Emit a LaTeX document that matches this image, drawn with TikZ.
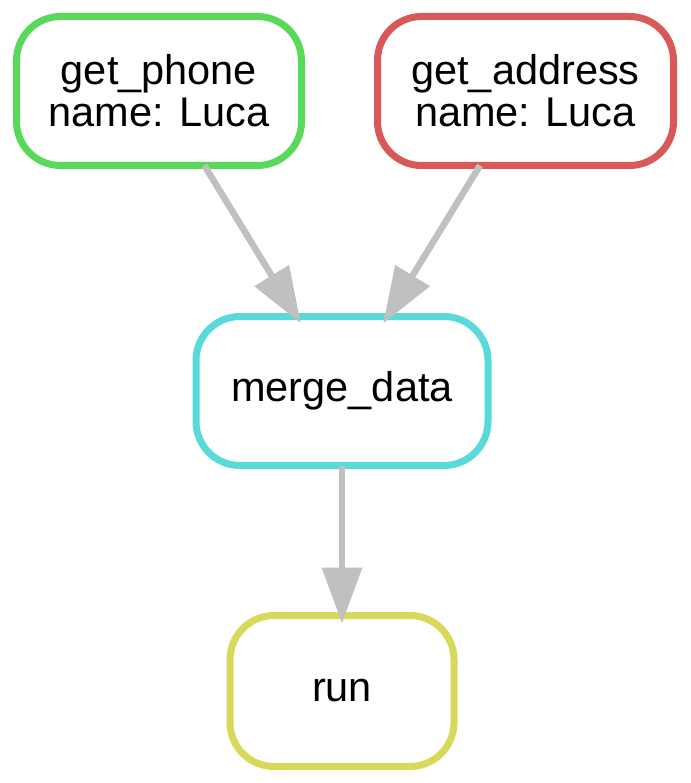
\documentclass[tikz,border=0pt]{standalone}
\usepackage{fontspec}
\setmainfont{Liberation Sans}
\usetikzlibrary{arrows.meta}
\definecolor{cgreen}{RGB}{89,217,89}
\definecolor{cred}{RGB}{217,89,89}
\definecolor{ccyan}{RGB}{89,217,217}
\definecolor{cyellow}{RGB}{214,217,89}
\definecolor{cedge}{RGB}{192,192,192}
\begin{document}
\begin{tikzpicture}[x=1pt,y=1pt,
  rulebox/.style={draw=#1, line width=7pt, rounded corners=44pt, fill=white,
    minimum height=149pt, inner sep=0pt, outer sep=0pt, align=center,
    font=\fontsize{41.5pt}{42pt}\selectfont},
  flow/.style={draw=cedge, line width=6.5pt, shorten >=-8pt,
    -{Triangle[length=56pt,width=39pt]}}]
\useasboundingbox (0,0) rectangle (690,-783);
\node[rulebox=cgreen, minimum width=285pt] (gp) at (159,-91) {get\_phone\\name: Luca};
\node[rulebox=cred, minimum width=296pt] (ga) at (525.5,-91) {get\_address\\name: Luca};
\node[rulebox=ccyan, minimum width=292pt] (md) at (342,-391) {merge\_data};
\node[rulebox=cyellow, minimum width=224pt, minimum height=151pt] (rn) at (342,-691) {run};
\draw[flow] (gp) -- (md);
\draw[flow] (ga) -- (md);
\draw[flow] (md) -- (rn);
\end{tikzpicture}
\end{document}
